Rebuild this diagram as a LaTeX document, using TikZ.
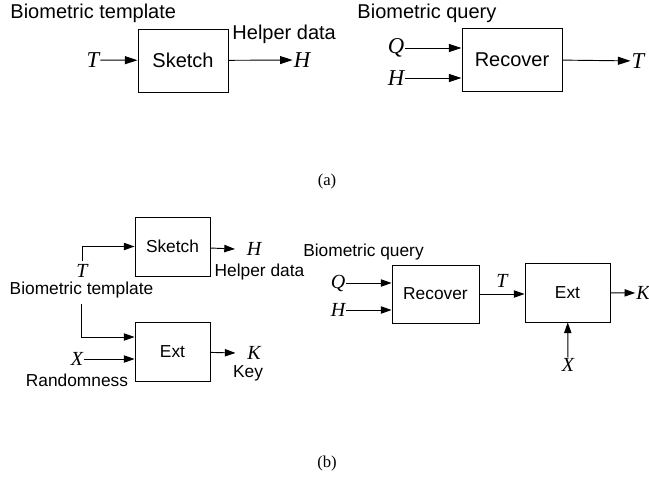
\documentclass[tikz,border=0pt]{standalone}
\usepackage{fontspec}
\setmainfont{Liberation Serif}
\setsansfont{Liberation Sans}
\usetikzlibrary{positioning, arrows.meta}

\begin{document}
\begin{tikzpicture}[
    x=0.75pt, y=-0.75pt,
    line width=0.7pt,
    big/.style={font=\fontsize{15}{18}\sffamily},
    small/.style={font=\fontsize{13}{15}\sffamily},
    var/.style={font=\fontsize{17}{20}\itshape, inner sep=0.5pt},
    varb/.style={font=\fontsize{15}{18}\itshape, inner sep=0.5pt},
    block/.style={draw, fill=white, inner sep=0pt},
    arr/.style={-{Triangle[length=9.5pt, width=6pt]}},
    arrb/.style={-{Triangle[length=8pt, width=5.5pt]}},
    caption/.style={font=\fontsize{12.5}{14}\selectfont}
]
\useasboundingbox (0,0) rectangle (649,478);

% (a) Nodes
\node[block, big, minimum width=67.5pt, minimum height=47.25pt] (SkA) at (183,60.5) {Sketch};
\node[block, big, minimum width=75pt, minimum height=47.25pt] (RecA) at (512,59.5) {Recover};

% (a) Labels
\node[big, anchor=west, inner sep=0pt] (TemplA) at (10,13) {Biometric template};
\node[big, anchor=west, inner sep=0pt] (HelpA) at (232,34) {Helper data};
\node[big, anchor=west, inner sep=0pt] (QueryA) at (357,13) {Biometric query};
\node[var] (TA) at (93,60) {T};
\node[var] (HA) at (302,60) {H};
\node[var] (QA) at (396,48) {Q};
\node[var] (HA2) at (396,78) {H};
\node[var] (TA2) at (638,61) {T};

% (a) Edges
\draw[arr] (TA) -- (SkA);
\draw[arr] (SkA) -- (HA);
\draw[arr] (QA) -- (QA -| RecA.west);
\draw[arr] (HA2) -- (HA2 -| RecA.west);
\draw[arr] (RecA) -- (TA2);

\node[caption] (CapA) at (327,181) {(a)};

% (b) Nodes
\node[block, small, minimum width=56.25pt, minimum height=44.25pt] (SkB) at (172.5,246.5) {Sketch};
\node[block, small, minimum width=56.25pt, minimum height=44.25pt] (ExtB) at (172.5,351.5) {Ext};
\node[block, small, minimum width=65.25pt, minimum height=43.5pt] (RecB) at (435.5,294) {Recover};
\node[block, small, minimum width=63.75pt, minimum height=44.25pt] (ExtC) at (567.5,292.5) {Ext};

% (b) Labels
\node[varb, inner sep=2pt] (TB) at (82,271) {T};
\node[small, inner sep=0pt] (TemplB) at (81.5,290) {Biometric template};
\node[small, inner sep=0pt] (HelpB) at (259.5,272) {Helper data};
\node[small, inner sep=0pt] (Rand) at (77,380) {Randomness};
\node[small, inner sep=0pt] (KeyB) at (248,373) {Key};
\node[small, inner sep=0pt] (QueryB) at (363.5,252) {Biometric query};
\node[varb] (HB) at (254,249) {H};
\node[varb] (XB) at (77,359) {X};
\node[varb] (KB) at (254,353) {K};
\node[varb] (QB) at (338,283) {Q};
\node[varb] (HB2) at (338,310) {H};
\node[varb] (KC) at (643,293) {K};
\node[varb] (XC) at (568,365) {X};

% (b) Edges
\draw[arrb] (TB.north) |- (SkB.west);
\draw[arrb] (TemplB.south) ++(0,-4pt) |- (ExtB.west |- 0,337);
\draw[arrb] (XB) -- (XB -| ExtB.west);
\draw[arrb] (SkB) -- ([xshift=-8pt]HB.west);
\draw[arrb] (ExtB) -- ([xshift=-8pt]KB.west);
\draw[arrb] (QB) -- (QB -| RecB.west);
\draw[arrb] (HB2) -- (HB2 -| RecB.west);
\draw[arrb] (RecB.east) -- node[varb, above=4pt] (TC) {T} (RecB.east -| ExtC.west);
\draw[arrb] (ExtC) -- (KC);
\draw[arrb] (XC) -- (ExtC);

\node[caption] (CapB) at (327,463) {(b)};

\end{tikzpicture}
\end{document}
